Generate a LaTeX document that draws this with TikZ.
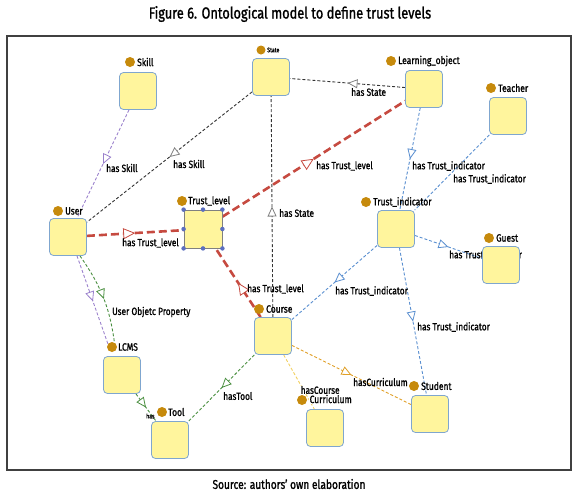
\documentclass[tikz,border=0pt]{standalone}
\usepackage{fontspec}
\setmainfont[FakeStretch=0.8,FakeBold=1.2]{Fira Sans}
\usetikzlibrary{arrows.meta,decorations.markings}
\definecolor{boxfill}{HTML}{FFF59D}
\definecolor{boxdraw}{HTML}{7FA6CF}
\definecolor{dotcol}{HTML}{C68A0C}
\definecolor{redE}{HTML}{C64A40}
\definecolor{blueE}{HTML}{5A8FD0}
\definecolor{purpE}{HTML}{9A80CC}
\definecolor{greenE}{HTML}{4A8F40}
\definecolor{orangeE}{HTML}{E0A028}
\definecolor{yellowE}{HTML}{F2D060}
\definecolor{handle}{HTML}{5C6FBF}
\definecolor{frameC}{HTML}{404040}
\pgfdeclarelayer{background}
\pgfsetlayers{background,main}
\begin{document}
\begin{tikzpicture}[x=1pt,y=-1pt,
  cls/.style={draw=boxdraw, fill=boxfill, rounded corners=4pt, minimum size=37pt, inner sep=0pt, line width=0.8pt},
  selbox/.style={draw=gray, fill=boxfill, minimum size=38pt, inner sep=0pt, line width=0.8pt},
  hnd/.style={circle, fill=handle, minimum size=4.5pt, inner sep=0pt},
  dotn/.style={circle, fill=dotcol, minimum size=10pt, inner sep=0pt},
  cname/.style={anchor=west, inner sep=0pt, font=\fontsize{10.6}{12}\selectfont},
  elbl/.style={anchor=west, inner sep=0pt, font=\fontsize{10.4}{12}\selectfont},
  tiny/.style={font=\fontsize{6.5}{7}\selectfont},
  thinE/.style={dash pattern=on 3pt off 2pt, line width=0.9pt},
  edgeK/.style={thinE, draw=black!80},
  edgeP/.style={thinE, draw=purpE},
  edgeB/.style={thinE, draw=blueE},
  edgeG/.style={thinE, draw=greenE},
  edgeO/.style={thinE, draw=orangeE},
  edgeY/.style={thinE, draw=yellowE},
  edgeR/.style={draw=redE, line width=2.6pt, dash pattern=on 8pt off 4pt},
  midarrow/.style={postaction={decorate,decoration={markings,mark=at position 0.5 with {\arrow{Triangle[length=10pt,width=9pt,line width=0.8pt,color=#1,fill=white]}}}}},
  bigarrow/.style={postaction={decorate,decoration={markings,mark=at position 0.5 with {\arrow{Triangle[length=12pt,width=11pt,line width=0.8pt,color=#1,fill=white]}}}}}
]
\useasboundingbox (0,0) rectangle (580,501);

% title and source
\node[font=\fontsize{16}{18}\selectfont] (title) at (290,14) {Figure 6. Ontological model to define trust levels};
\node[font=\fontsize{12.7}{14}\selectfont] (src) at (289,484) {Source: authors' own elaboration};
\draw[line width=1.6pt, draw=frameC] (7,36) rectangle (571,470);

% class boxes
\node[cls] (skill) at (138,91) {};
\node[cls] (state) at (271,77) {};
\node[cls] (lo) at (424,89) {};
\node[cls] (teacher) at (508,116) {};
\node[cls] (user) at (68,237) {};
\node[selbox] (tl) at (203,229) {};
\node[cls] (ti) at (396,229) {};
\node[cls] (guest) at (501,265) {};
\node[cls] (course) at (273,336) {};
\node[cls] (lcms) at (122,375) {};
\node[cls] (tool) at (170,440) {};
\node[cls] (curr) at (325,428) {};
\node[cls] (student) at (430,414) {};

% selection handles on Trust_level
\foreach \a [count=\i] in {north west,north,north east,east,south east,south,south west,west}
  \node[hnd] (h\i) at (tl.\a) {};

% class labels with dots
\node[dotn] (dskill) at (130,62) {};
\node[cname] (tskill) at (137,62) {Skill};
\node[dotn, minimum size=9pt] (dstate) at (261,50) {};
\node[cname, tiny] (tstate) at (267,50) {State};
\node[dotn] (dlo) at (391,61) {};
\node[cname] (tlo) at (398,61) {Learning\_object};
\node[dotn] (dteacher) at (491,88) {};
\node[cname] (tteacher) at (498,88) {Teacher};
\node[dotn] (duser) at (58,211) {};
\node[cname] (tuser) at (65,211) {User};
\node[dotn] (dtl) at (182,201) {};
\node[cname] (ttl) at (188,201) {Trust\_level};
\node[dotn] (dti) at (366,202) {};
\node[cname] (tti) at (373,202) {Trust\_indicator};
\node[dotn] (dguest) at (489,238) {};
\node[cname] (tguest) at (496,238) {Guest};
\node[dotn] (dcourse) at (259,309) {};
\node[cname] (tcourse) at (266,309) {Course};
\node[dotn] (dlcms) at (112,347) {};
\node[cname] (tlcms) at (118,347) {LCMS};
\node[dotn] (dtool) at (162,412) {};
\node[cname] (ttool) at (168,412) {Tool};
\node[dotn] (dcurr) at (302,400) {};
\node[cname, fill=white, inner sep=0.5pt] (tcurr) at (309,399) {Curriculum};
\node[dotn] (dstudent) at (414,386) {};
\node[cname] (tstudent) at (421,386) {Student};

\begin{pgfonlayer}{background}
% edges
\draw[edgeP, midarrow=purpE] (skill) -- (user);
\draw[edgeK, midarrow=gray] (state) -- (user);
\draw[edgeK, midarrow=gray] (course) -- (state);
\draw[edgeK, midarrow=gray] (lo) -- (state);
\draw[edgeR, bigarrow=redE] (user) -- (tl);
\draw[edgeR, bigarrow=redE] (tl) -- (lo);
\draw[edgeR, bigarrow=redE] (course) -- (tl);
\draw[edgeB, midarrow=blueE] (lo) -- (ti);
\draw[edgeB] (teacher) -- (ti);
\draw[edgeB, midarrow=blueE] (ti) -- (guest);
\draw[edgeB, midarrow=blueE] (ti) -- (course);
\draw[edgeB, midarrow=blueE] (ti) -- (student);
\draw[edgeP, midarrow=purpE] ([xshift=9pt]user.south) -- ([xshift=-3pt]dlcms.center);
\draw[edgeG, midarrow=greenE] ([xshift=12pt]user.south) to[bend left=14] ([xshift=3pt]dlcms.center);
\draw[edgeG, midarrow=greenE] (lcms) -- (tool);
\draw[edgeG, midarrow=greenE] (course) -- (tool);
\draw[edgeO, midarrow=orangeE] (course) -- (student);
\draw[edgeY] (course) -- (curr);

% edge labels
\node[elbl] (l1) at (106,168) {has Skill};
\node[elbl] (l2) at (173,164) {has Skill};
\node[elbl] (l3) at (351,92) {has State};
\node[elbl] (l4) at (279,213) {has State};
\node[elbl] (l5) at (122,243) {has Trust\_level};
\node[elbl] (l6) at (316,166) {has Trust\_level};
\node[elbl] (l7) at (247,289) {has Trust\_level};
\node[elbl] (l8) at (412,166) {has Trust\_indicator};
\node[elbl] (l9) at (453,179) {has Trust\_indicator};
\node[elbl] (l10) at (449,255) {has Trust\_indicator};
\node[elbl] (l11) at (335,291) {has Trust\_indicator};
\node[elbl] (l12) at (417,327) {has Trust\_indicator};
\node[elbl] (l13) at (112,312) {User Objetc Property};
\node[elbl, tiny] (l14) at (146,416) {has};
\node[elbl] (l15) at (223,396) {hasTool};
\node[elbl, fill=white, inner sep=0.5pt] (l16) at (300,390) {hasCourse};
\node[elbl] (l17) at (353,382) {hasCurriculum};
\end{pgfonlayer}
\end{tikzpicture}
\end{document}
